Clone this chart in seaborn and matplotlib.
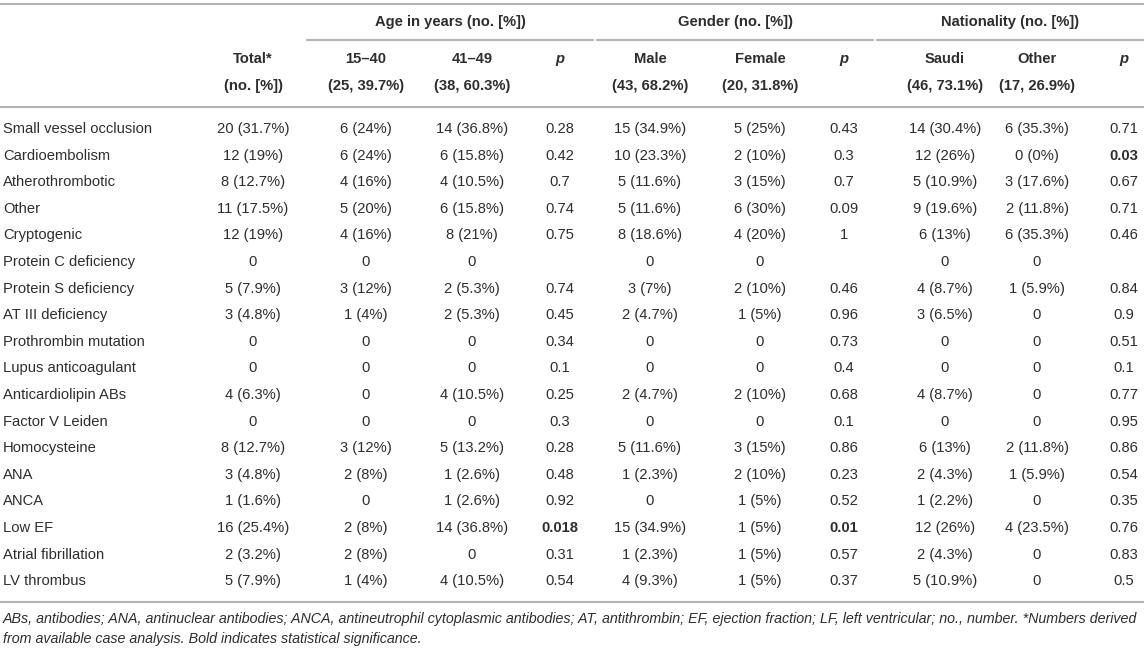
import matplotlib
matplotlib.use("Agg")
import matplotlib.pyplot as plt
import seaborn as sns

# table content
row_labels = ["Small vessel occlusion", "Cardioembolism", "Atherothrombotic", "Other",
              "Cryptogenic", "Protein C deficiency", "Protein S deficiency", "AT III deficiency",
              "Prothrombin mutation", "Lupus anticoagulant", "Anticardiolipin ABs",
              "Factor V Leiden", "Homocysteine", "ANA", "ANCA", "Low EF",
              "Atrial fibrillation", "LV thrombus"]
total = ["20 (31.7%)", "12 (19%)", "8 (12.7%)", "11 (17.5%)", "12 (19%)", "0", "5 (7.9%)",
         "3 (4.8%)", "0", "0", "4 (6.3%)", "0", "8 (12.7%)", "3 (4.8%)", "1 (1.6%)",
         "16 (25.4%)", "2 (3.2%)", "5 (7.9%)"]
age_15_40 = ["6 (24%)", "6 (24%)", "4 (16%)", "5 (20%)", "4 (16%)", "0", "3 (12%)", "1 (4%)",
             "0", "0", "0", "0", "3 (12%)", "2 (8%)", "0", "2 (8%)", "2 (8%)", "1 (4%)"]
age_41_49 = ["14 (36.8%)", "6 (15.8%)", "4 (10.5%)", "6 (15.8%)", "8 (21%)", "0", "2 (5.3%)",
             "2 (5.3%)", "0", "0", "4 (10.5%)", "0", "5 (13.2%)", "1 (2.6%)", "1 (2.6%)",
             "14 (36.8%)", "0", "4 (10.5%)"]
age_p = ["0.28", "0.42", "0.7", "0.74", "0.75", "", "0.74", "0.45", "0.34", "0.1", "0.25",
         "0.3", "0.28", "0.48", "0.92", "0.018", "0.31", "0.54"]
male = ["15 (34.9%)", "10 (23.3%)", "5 (11.6%)", "5 (11.6%)", "8 (18.6%)", "0", "3 (7%)",
        "2 (4.7%)", "0", "0", "2 (4.7%)", "0", "5 (11.6%)", "1 (2.3%)", "0", "15 (34.9%)",
        "1 (2.3%)", "4 (9.3%)"]
female = ["5 (25%)", "2 (10%)", "3 (15%)", "6 (30%)", "4 (20%)", "0", "2 (10%)", "1 (5%)",
          "0", "0", "2 (10%)", "0", "3 (15%)", "2 (10%)", "1 (5%)", "1 (5%)", "1 (5%)", "1 (5%)"]
gender_p = ["0.43", "0.3", "0.7", "0.09", "1", "", "0.46", "0.96", "0.73", "0.4", "0.68",
            "0.1", "0.86", "0.23", "0.52", "0.01", "0.57", "0.37"]
saudi = ["14 (30.4%)", "12 (26%)", "5 (10.9%)", "9 (19.6%)", "6 (13%)", "0", "4 (8.7%)",
         "3 (6.5%)", "0", "0", "4 (8.7%)", "0", "6 (13%)", "2 (4.3%)", "1 (2.2%)", "12 (26%)",
         "2 (4.3%)", "5 (10.9%)"]
other = ["6 (35.3%)", "0 (0%)", "3 (17.6%)", "2 (11.8%)", "6 (35.3%)", "0", "1 (5.9%)", "0",
         "0", "0", "0", "0", "2 (11.8%)", "1 (5.9%)", "0", "4 (23.5%)", "0", "0"]
nation_p = ["0.71", "0.03", "0.67", "0.71", "0.46", "", "0.84", "0.9", "0.51", "0.1", "0.77",
            "0.95", "0.86", "0.54", "0.35", "0.76", "0.83", "0.5"]

# significant p values (column, row) shown in bold
bold_cells = [("age_p", "Low EF"), ("gender_p", "Low EF"), ("nation_p", "Cardioembolism")]

group_headers = ["Age in years (no. [%])", "Gender (no. [%])", "Nationality (no. [%])"]
col_head_1 = ["Total*", "15\u201340", "41\u201349", "p", "Male", "Female", "p", "Saudi", "Other", "p"]
col_head_2 = ["(no. [%])", "(25, 39.7%)", "(38, 60.3%)", "", "(43, 68.2%)", "(20, 31.8%)", "",
              "(46, 73.1%)", "(17, 26.9%)", ""]

footnote_lines = [
    "ABs, antibodies; ANA, antinuclear antibodies; ANCA, antineutrophil cytoplasmic "
    "antibodies; AT, antithrombin; EF, ejection fraction; LF, left ventricular; no., "
    "number. *Numbers derived",
    "from available case analysis. Bold indicates statistical significance.",
]

columns = {"total": total, "age_15_40": age_15_40, "age_41_49": age_41_49, "age_p": age_p,
           "male": male, "female": female, "gender_p": gender_p,
           "saudi": saudi, "other": other, "nation_p": nation_p}

sns.set_style("white")
plt.rcParams['font.family'] = ['Liberation Sans', 'DejaVu Sans']

W, H = 1144, 648
fig = plt.figure(figsize=(W / 100, H / 100), dpi=100)
ax = fig.add_axes([0, 0, 1, 1])
ax.set_xlim(0, W)
ax.set_ylim(H, 0)
ax.axis("off")

txt = "#2e2e2e"
rule = "#b4b4b4"
fs = 10.6

# layout (pixel units)
col_x = [253, 366, 472, 560, 650, 760, 844, 945, 1037, 1124]
spans = [(307, 593), (597, 873), (877, 1144)]
y_top, y_group, y_sub, y_h1, y_h2, y_head = 3.5, 22, 40, 59, 86, 107
y0, pitch = 129, 26.6

# rules
ax.plot([0, W], [y_top, y_top], color=rule, lw=1.5)
for a, b in spans:
    ax.plot([a, b], [y_sub, y_sub], color=rule, lw=1.5)
ax.plot([0, W], [y_head, y_head], color=rule, lw=1.5)
y_last = y0 + (len(row_labels) - 1) * pitch
ax.plot([0, W], [y_last + 21, y_last + 21], color=rule, lw=1.5)

# headers
for (a, b), g in zip(spans, group_headers):
    ax.text((a + b) / 2, y_group, g, ha="center", va="center", fontsize=fs,
            fontweight="bold", color=txt)
for x, h1, h2 in zip(col_x, col_head_1, col_head_2):
    ax.text(x, y_h1, h1, ha="center", va="center", fontsize=fs, fontweight="bold",
            color=txt, fontstyle="italic" if h1 == "p" else "normal")
    if h2:
        ax.text(x, y_h2, h2, ha="center", va="center", fontsize=fs, fontweight="bold", color=txt)

# body
for i, lab in enumerate(row_labels):
    y = y0 + i * pitch
    ax.text(3, y, lab, ha="left", va="center", fontsize=fs, color=txt)
    for x, (key, vals) in zip(col_x, columns.items()):
        weight = "bold" if (key, lab) in bold_cells else "normal"
        ax.text(x, y, vals[i], ha="center", va="center", fontsize=fs, color=txt,
                fontweight=weight)

# footnote
for k, line in enumerate(footnote_lines):
    ax.text(3, y_last + 38 + k * 20, line, ha="left", va="center", fontsize=10.28,
            color=txt, fontstyle="italic")

fig.savefig("out.png", dpi=100)
